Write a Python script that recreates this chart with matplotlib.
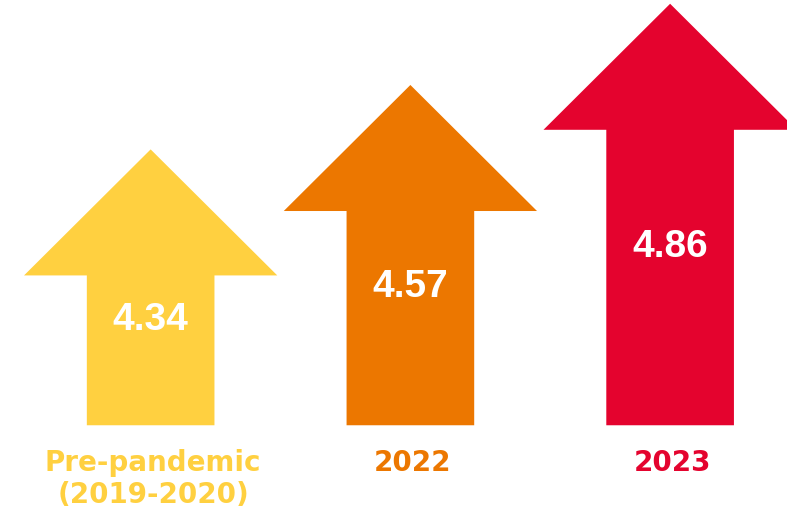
import numpy as np
import matplotlib.pyplot as plt
from matplotlib.patches import Polygon

categories = ["Pre-pandemic\n(2019-2020)", "2022", "2023"]
values = [4.34, 4.57, 4.86]
value_labels = ["4.34", "4.57", "4.86"]
colors = ["#FFD040", "#EC7700", "#E4032E"]

fig = plt.figure(figsize=(7.87, 5.10), dpi=100)
ax = fig.add_axes([0, 0, 1, 1])
ax.set_xlim(-0.58, 2.45)
ax.set_ylim(3.056, 4.877)
ax.axis("off")

head_w = 0.4875   # half width of arrow head
shaft_w = 0.2457  # half width of shaft
head_h = 0.45     # height of arrow head
base = 3.355      # bottom of the shafts

for i, (v, lab, c) in enumerate(zip(values, value_labels, colors)):
    hb = v - head_h
    pts = [(i - shaft_w, base), (i - shaft_w, hb), (i - head_w, hb), (i, v),
           (i + head_w, hb), (i + shaft_w, hb), (i + shaft_w, base)]
    ax.add_patch(Polygon(pts, closed=True, facecolor=c, edgecolor="none"))
    ax.text(i, (hb + base) / 2 + 0.113, lab, color="white", fontsize=28,
            fontweight="bold", family="Liberation Sans", ha="center", va="center")
    ax.text(i + 0.01, base - 0.08, categories[i], color=c, fontsize=20,
            fontweight="bold", family="DejaVu Sans", ha="center", va="top",
            linespacing=1.2)

fig.savefig("out.png", dpi=100)
